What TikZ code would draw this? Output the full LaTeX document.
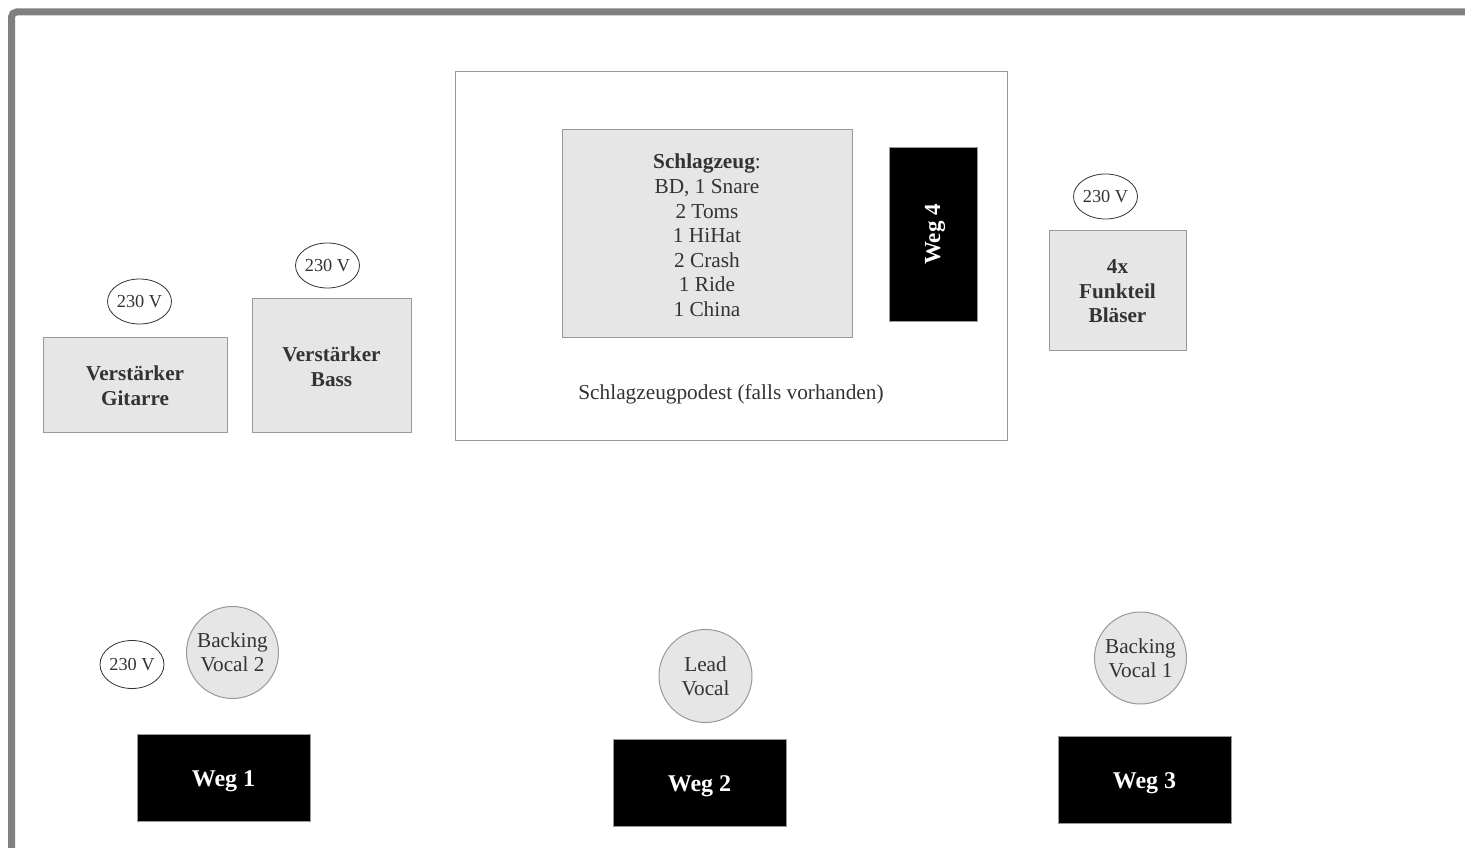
\documentclass[tikz,border=0pt]{standalone}
\usepackage{fontspec}
\setmainfont{Liberation Serif}
\usetikzlibrary{shapes.geometric}
\definecolor{txt}{HTML}{333333}
\definecolor{boxfill}{HTML}{E6E6E6}
\definecolor{edge}{HTML}{999999}
\definecolor{frame}{HTML}{808080}
\tikzset{
  graybox/.style={draw=edge, fill=boxfill, line width=1pt, text=txt, align=center, inner sep=0pt,
    font=\fontsize{21.2}{24.6}\selectfont\bfseries},
  wegbox/.style={draw=edge, fill=black, line width=1pt, inner sep=0pt},
  wegtext/.style={text=white, font=\fontsize{24}{28}\selectfont\bfseries},
  volt/.style={draw=txt, ellipse, fill=white, line width=0.8pt, text=txt, inner sep=0pt,
    font=\fontsize{18.3}{20}\selectfont},
  vocal/.style={draw=edge, circle, fill=boxfill, line width=1pt, text=txt, align=center, inner sep=0pt,
    font=\fontsize{21.2}{24}\selectfont},
}
\begin{document}
\begin{tikzpicture}[x=1pt,y=1pt]
\useasboundingbox (0,0) rectangle (1465,-848);
% outer frame
\draw[frame, line width=7pt, rounded corners=5pt] (11.5,-12) rectangle (1520,-900);
% podest
\node[draw=edge, fill=white, line width=1pt, minimum width=552pt, minimum height=368pt, inner sep=0pt] (podest) at (731,-256) {};
\node[text=txt, font=\fontsize{21.3}{24}\selectfont] (podesttext) at (731,-394) {Schlagzeugpodest (falls vorhanden)};
% Schlagzeug
\node[draw=edge, fill=boxfill, line width=1pt, minimum width=290pt, minimum height=207pt, inner sep=0pt] (drums) at (707,-233.5) {};
\node[text=txt, align=center, font=\fontsize{21.3}{24.6}\selectfont] (drumstext) at (707,-235.5)
  {\textbf{Schlagzeug}:\\BD, 1 Snare\\2 Toms\\1 HiHat\\2 Crash\\1 Ride\\1 China};
% Weg 4
\node[wegbox, minimum width=88pt, minimum height=173pt] (weg4) at (933,-234.5) {};
\node[wegtext, rotate=90, font=\fontsize{23}{26}\selectfont\bfseries] (weg4t) at (935,-234.5) {Weg 4};
% Blaeser
\node[volt, minimum width=63pt, minimum height=45pt] (v4) at (1105.5,-196.5) {230 V};
\node[graybox, minimum width=137pt, minimum height=120pt] (blaeser) at (1117.5,-290) {};
\node[text=txt, align=center, font=\fontsize{21.2}{24.6}\selectfont\bfseries] (blaesert) at (1117.5,-291.5) {4x\\Funkteil\\Bläser};
% Gitarre
\node[volt, minimum width=63pt, minimum height=45pt] (v1) at (139.5,-301.5) {230 V};
\node[graybox, minimum width=184pt, minimum height=95pt] (gitarre) at (135,-384.5) {};
\node[text=txt, align=center, font=\fontsize{21.2}{24.6}\selectfont\bfseries] (gitarret) at (135,-386) {Verstärker\\Gitarre};
% Bass
\node[volt, minimum width=64pt, minimum height=45pt] (v2) at (327.5,-265.5) {230 V};
\node[graybox, minimum width=159pt, minimum height=134pt] (bass) at (331.5,-365) {};
\node[text=txt, align=center, font=\fontsize{21.2}{24.6}\selectfont\bfseries] (basst) at (331.5,-366.5) {Verstärker\\Bass};
% vocals
\node[volt, minimum width=64pt, minimum height=48pt] (v3) at (132,-664.5) {230 V};
\node[vocal, minimum size=92pt] (bv2) at (232.5,-652.5) {Backing\\Vocal 2};
\node[vocal, minimum size=93pt] (lead) at (705.5,-676) {Lead\\Vocal};
\node[vocal, minimum size=92pt] (bv1) at (1140.5,-658) {Backing\\Vocal 1};
% Wege
\node[wegbox, minimum width=173pt, minimum height=87pt] (weg1) at (223.5,-777.5) {};
\node[wegtext] (weg1t) at (223.5,-781) {Weg 1};
\node[wegbox, minimum width=173pt, minimum height=87pt] (weg2) at (699.5,-782.5) {};
\node[wegtext] (weg2t) at (699.5,-786) {Weg 2};
\node[wegbox, minimum width=173pt, minimum height=87pt] (weg3) at (1144.5,-779.5) {};
\node[wegtext] (weg3t) at (1144.5,-783) {Weg 3};
\end{tikzpicture}
\end{document}
